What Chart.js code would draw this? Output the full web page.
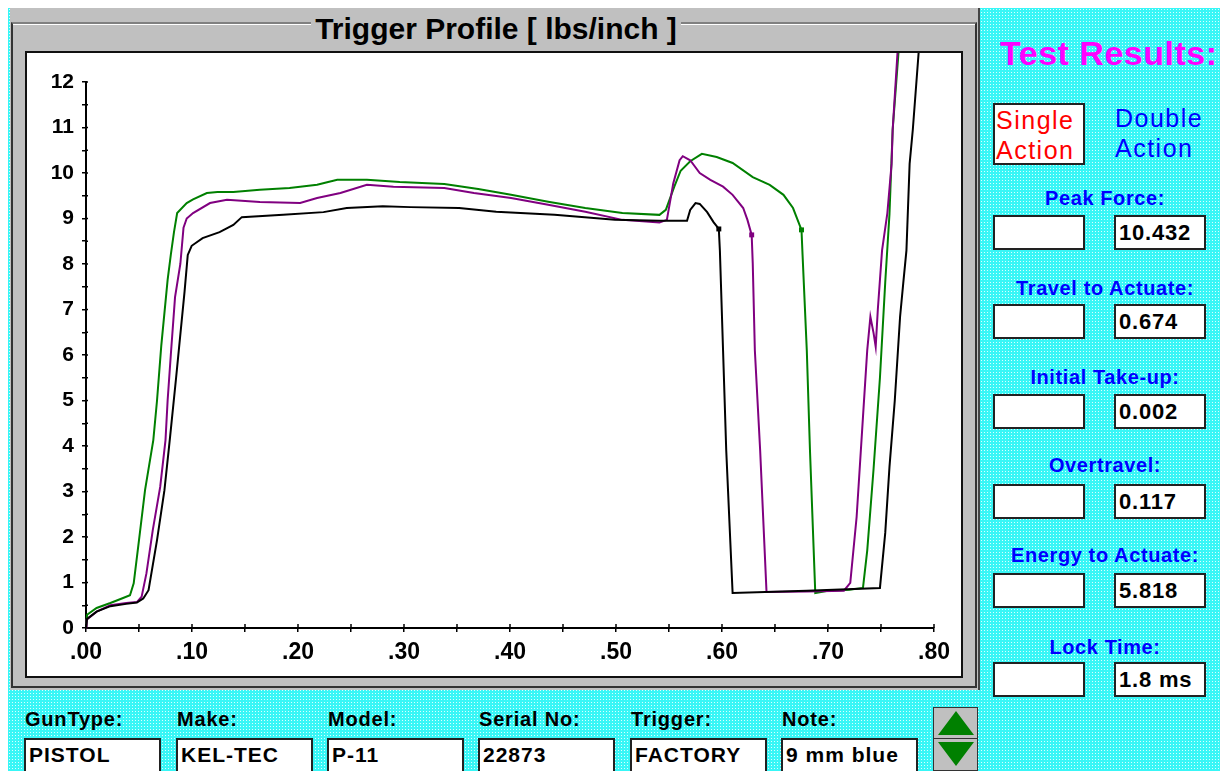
<!DOCTYPE html>
<html>
<head>
<meta charset="utf-8">
<script src="https://cdn.jsdelivr.net/npm/chart.js@4.4.1/dist/chart.umd.min.js"></script>
<style>
  body { margin: 0; width: 1220px; height: 771px; position: relative; overflow: hidden; background: #fff;
         font-family: "Liberation Sans", Arial, sans-serif; font-weight: bold; }
  .abs { position: absolute; }
  #bg { left: 8px; top: 8px; width: 1212px; height: 763px; background-color: #38f6f6;
        background-image: radial-gradient(circle, #d8ffff 0.7px, transparent 0.9px);
        background-size: 3px 3px; }
  #panel { left: 10px; top: 8px; width: 968px; height: 682px; background: #c0c0c0; border-right: 2px solid #444; }
  #group { left: 11px; top: 22px; width: 962px; height: 662px; border: 2px solid #333; border-top-color: #808080;
           box-shadow: inset 0 1px 0 #fff; }
  #title { left: 12px; top: 12px; width: 968px; text-align: center; font-size: 30px; line-height: 34px; }
  #title span { background: #c0c0c0; padding: 0 4px; }
  #plot { left: 25px; top: 51px; width: 938px; height: 627px; border: 2px solid #111; background: #fff; box-sizing: border-box; }
  #chartBox { left: 27px; top: 53px; width: 934px; height: 623px; }
  #results { left: 1000px; top: 34px; font-size: 34px; letter-spacing: 0.5px; color: #ff00ff; }
  .act { font-size: 25px; font-weight: normal; line-height: 30px; letter-spacing: 1.5px; }
  #single { left: 993px; top: 103px; width: 92px; height: 62px; box-sizing: border-box; border: 2px solid #222;
            background: #fff; color: #ff0000; padding-left: 1px; padding-top: 0px; }
  #double { left: 1115px; top: 103px; color: #0000ff; }
  .lbl { left: 990px; width: 230px; text-align: center; color: #0000ff; font-size: 20px; line-height: 22px; letter-spacing: 0.6px; }
  .box { width: 92px; height: 35px; box-sizing: border-box; border: 2px solid #222; background: #fff;
         font-size: 22px; line-height: 31px; padding-left: 3px; color: #000; letter-spacing: 0.8px; }
  .blbl { top: 707px; font-size: 20px; line-height: 24px; color: #000; letter-spacing: 0.8px; }
  .bbox { top: 738px; width: 137px; height: 40px; box-sizing: border-box; border: 2px solid #222; background: #fff;
          font-size: 21px; line-height: 30px; padding-left: 3px; color: #000; letter-spacing: 1px; }
  #btn { left: 933px; top: 707px; width: 45px; height: 64px; box-sizing: border-box; background: #c0c0c0; border: 1px solid #333; }
  #btn .sep { left: 0; top: 30px; width: 43px; height: 1px; background: #333; }
  #btn .up { left: 4px; top: 3px; width: 0; height: 0; border-left: 18px solid transparent; border-right: 18px solid transparent;
             border-bottom: 24px solid #008000; }
  #btn .dn { left: 4px; top: 34px; width: 0; height: 0; border-left: 18px solid transparent; border-right: 18px solid transparent;
             border-top: 24px solid #008000; }
</style>
</head>
<body>
<div id="bg" class="abs"></div>
<div id="panel" class="abs"></div>
<div id="group" class="abs"></div>
<div id="title" class="abs"><span>Trigger Profile [ lbs/inch ]</span></div>
<div id="plot" class="abs"></div>
<div id="chartBox" class="abs"><canvas id="profile" width="934" height="623"></canvas></div>

<div id="results" class="abs">Test Results:</div>
<div id="single" class="abs act">Single<br>Action</div>
<div id="double" class="abs act">Double<br>Action</div>
<div id="fields"></div>

<div id="btn" class="abs"><div class="abs up"></div><div class="abs sep"></div><div class="abs dn"></div></div>

<script>
// tick labels
const xTickLabels = [".00", ".10", ".20", ".30", ".40", ".50", ".60", ".70", ".80"];
const yTickLabels = ["0", "1", "2", "3", "4", "5", "6", "7", "8", "9", "10", "11", "12"];

// green trace (travel in inches, force in lbs)
const greenX = [0, 0.001, 0.010, 0.023, 0.035, 0.0415, 0.045, 0.050, 0.0557, 0.0635, 0.067, 0.071, 0.077, 0.080, 0.083, 0.086,
  0.095, 0.101, 0.114, 0.124, 0.139, 0.164, 0.192, 0.218, 0.237, 0.265, 0.296, 0.338, 0.370, 0.401, 0.436, 0.471, 0.506,
  0.541, 0.547, 0.555, 0.561, 0.570, 0.581, 0.595, 0.610, 0.629, 0.645, 0.658, 0.667, 0.675, 0.676, 0.680, 0.683, 0.688,
  0.700, 0.720, 0.733, 0.737, 0.743, 0.749, 0.754, 0.758, 0.761, 0.767];
const greenY = [0, 0.29, 0.44, 0.55, 0.66, 0.72, 0.98, 1.93, 3.03, 4.13, 5.0, 6.2, 7.65, 8.2, 8.7, 9.12,
  9.34, 9.42, 9.56, 9.58, 9.58, 9.63, 9.67, 9.74, 9.85, 9.85, 9.80, 9.76, 9.65, 9.52, 9.37, 9.23, 9.12,
  9.08, 9.19, 9.70, 10.05, 10.26, 10.42, 10.35, 10.22, 9.91, 9.74, 9.52, 9.23, 8.75, 8.2, 6.1, 3.9, 0.77,
  0.82, 0.84, 0.88, 1.7, 3.5, 5.5, 7.6, 9.1, 10.95, 12.8];
const greenBreak = 45;

// purple trace
const purpleX = [0, 0.0006, 0.010, 0.023, 0.038, 0.048, 0.0525, 0.057, 0.063, 0.070, 0.075, 0.077, 0.080, 0.084, 0.089, 0.092,
  0.095, 0.101, 0.117, 0.133, 0.164, 0.202, 0.218, 0.240, 0.265, 0.290, 0.338, 0.366, 0.401, 0.436, 0.471, 0.506, 0.541,
  0.548, 0.554, 0.560, 0.563, 0.570, 0.579, 0.589, 0.601, 0.610, 0.620, 0.624, 0.628, 0.629, 0.631, 0.636, 0.642,
  0.680, 0.715, 0.721, 0.727, 0.733, 0.737, 0.740, 0.743, 0.745, 0.747, 0.751, 0.756, 0.760, 0.761, 0.766];
const purpleY = [0, 0.18, 0.36, 0.50, 0.55, 0.57, 0.69, 1.2, 2.15, 3.1, 4.13, 5.0, 6.0, 7.27, 8.0, 8.8,
  9.0, 9.12, 9.34, 9.41, 9.36, 9.34, 9.45, 9.56, 9.74, 9.70, 9.67, 9.56, 9.45, 9.30, 9.15, 8.97, 8.91,
  8.97, 9.77, 10.28, 10.37, 10.28, 10.0, 9.85, 9.70, 9.52, 9.23, 8.97, 8.64, 8.02, 6.1, 3.9, 0.79,
  0.80, 0.82, 0.99, 2.44, 4.64, 6.1, 6.84, 6.48, 6.18, 7.0, 8.3, 9.12, 10.2, 10.95, 12.8];
const purpleBreak = 44;

// black trace
const blackX = [0, 0.001, 0.010, 0.023, 0.038, 0.048, 0.054, 0.059, 0.067, 0.074, 0.079, 0.085, 0.093, 0.096, 0.0997,
  0.110, 0.126, 0.139, 0.147, 0.186, 0.224, 0.246, 0.280, 0.306, 0.352, 0.387, 0.442, 0.499, 0.541, 0.567,
  0.570, 0.575, 0.579, 0.586, 0.592, 0.597, 0.598, 0.601, 0.604, 0.610, 0.680, 0.749,
  0.754, 0.758, 0.763, 0.768, 0.771, 0.774, 0.777, 0.780, 0.786];
const blackY = [0, 0.2, 0.36, 0.48, 0.53, 0.56, 0.65, 0.83, 1.93, 3.03, 4.13, 5.5, 7.4, 8.2, 8.4,
  8.57, 8.7, 8.86, 9.03, 9.08, 9.14, 9.23, 9.27, 9.25, 9.23, 9.15, 9.08, 8.97, 8.95, 8.95,
  9.19, 9.34, 9.32, 9.14, 8.92, 8.77, 8.3, 6.1, 3.9, 0.77, 0.82, 0.88,
  2.09, 3.54, 5.0, 6.84, 7.58, 8.3, 10.2, 10.95, 12.8];
const blackBreak = 35;

// result panel
const resultLabels = ["Peak Force:", "Travel to Actuate:", "Initial Take-up:", "Overtravel:", "Energy to Actuate:", "Lock Time:"];
const singleValues = ["", "", "", "", "", ""];
const doubleValues = ["10.432", "0.674", "0.002", "0.117", "5.818", "1.8 ms"];
const resultLabelTops = [187, 277, 366, 454, 544, 636];
const resultBoxTops = [215, 304, 394, 484, 573, 662];

// gun info
const infoLabels = ["GunType:", "Make:", "Model:", "Serial No:", "Trigger:", "Note:"];
const infoValues = ["PISTOL", "KEL-TEC", "P-11", "22873", "FACTORY", "9 mm blue"];
const infoLefts = [24, 176, 327, 478, 630, 781];

const fields = document.getElementById("fields");
resultLabels.forEach((label, i) => {
  fields.insertAdjacentHTML("beforeend",
    `<div class="abs lbl" style="top:${resultLabelTops[i]}px">${label}</div>` +
    `<div class="abs box" style="left:993px;top:${resultBoxTops[i]}px">${singleValues[i]}</div>` +
    `<div class="abs box" style="left:1114px;top:${resultBoxTops[i]}px">${doubleValues[i]}</div>`);
});
infoLabels.forEach((label, i) => {
  fields.insertAdjacentHTML("beforeend",
    `<div class="abs blbl" style="left:${infoLefts[i] + 1}px">${label}</div>` +
    `<div class="abs bbox" style="left:${infoLefts[i]}px">${infoValues[i]}</div>`);
});

const toPoints = (xs, ys) => xs.map((x, i) => ({ x: x, y: ys[i] }));

const makeTrace = (xs, ys, color, breakIdx) => ({
  data: toPoints(xs, ys),
  showLine: true,
  borderColor: color,
  backgroundColor: color,
  borderWidth: 2,
  tension: 0,
  clip: false,
  pointStyle: "rect",
  pointRadius: (ctx) => (ctx.dataIndex === breakIdx ? 3.5 : 0),
  pointBorderWidth: 0,
});

// ticks also reach inside the axes
const innerTicks = {
  id: "innerTicks",
  afterDraw(chart) {
    const { ctx, scales } = chart;
    const x = scales.x, y = scales.y;
    ctx.save();
    ctx.strokeStyle = "#000";
    ctx.lineWidth = 1.5;
    x.ticks.forEach((t) => {
      const px = x.getPixelForValue(t.value);
      ctx.beginPath(); ctx.moveTo(px, x.top); ctx.lineTo(px, x.top - 4); ctx.stroke();
    });
    y.ticks.forEach((t) => {
      const py = y.getPixelForValue(t.value);
      ctx.beginPath(); ctx.moveTo(y.right, py); ctx.lineTo(y.right + 2, py); ctx.stroke();
    });
    ctx.restore();
  },
};

Chart.defaults.font.family = '"Liberation Sans", Arial, sans-serif';
Chart.defaults.font.weight = "bold";
Chart.defaults.font.size = 21;
Chart.defaults.color = "#000";

new Chart(document.getElementById("profile"), {
  type: "scatter",
  data: {
    datasets: [
      makeTrace(blackX, blackY, "#000000", blackBreak),
      makeTrace(purpleX, purpleY, "#800080", purpleBreak),
      makeTrace(greenX, greenY, "#008000", greenBreak),
    ],
  },
  options: {
    responsive: false,
    animation: false,
    layout: { padding: { top: 29, right: 27, left: 0, bottom: 0 } },
    plugins: { legend: { display: false }, tooltip: { enabled: false } },
    scales: {
      x: {
        type: "linear",
        min: 0,
        max: 0.8,
        afterFit: (scale) => { scale.height = 48; },
        grid: { drawOnChartArea: false, color: "#000", lineWidth: 1.5, tickLength: 4 },
        border: { color: "#000", width: 2 },
        ticks: {
          stepSize: 0.05,
          autoSkip: false,
          maxRotation: 0,
          padding: 7,
          font: { size: 23 },
          callback: (v) => {
            const n = Math.round(v * 100);
            return n % 10 === 0 ? xTickLabels[n / 10] : "";
          },
        },
      },
      y: {
        type: "linear",
        min: 0,
        max: 12,
        afterFit: (scale) => { scale.width = 59; },
        grid: { drawOnChartArea: false, color: "#000", lineWidth: 1.5, tickLength: 4 },
        border: { color: "#000", width: 2 },
        ticks: {
          stepSize: 0.5,
          autoSkip: false,
          padding: 8,
          callback: (v) => (Math.abs(v - Math.round(v)) < 1e-6 ? yTickLabels[Math.round(v)] : ""),
        },
      },
    },
  },
  plugins: [innerTicks],
});
</script>
</body>
</html>
